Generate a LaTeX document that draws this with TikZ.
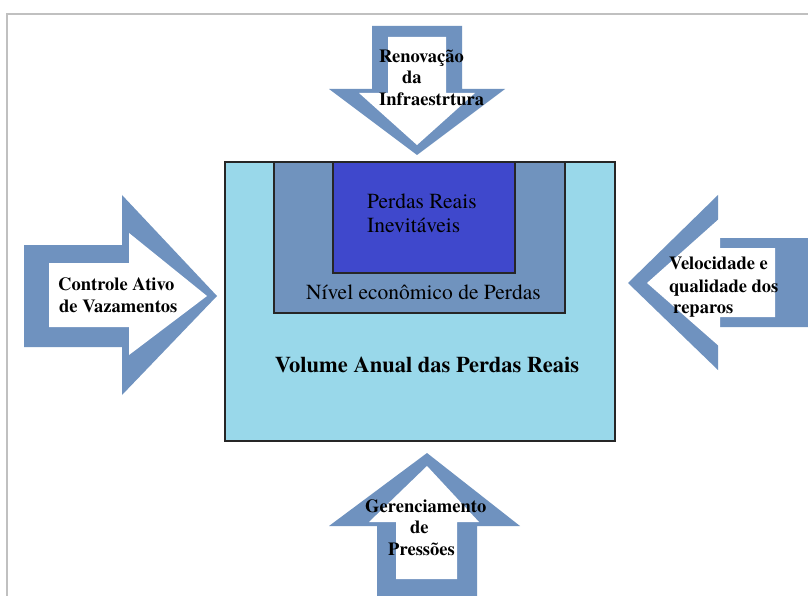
\documentclass[tikz,border=0pt]{standalone}
\usepackage{fontspec}
\setmainfont{texgyretermes}[Extension=.otf,UprightFont=*-regular,BoldFont=*-bold,ItalicFont=*-italic,BoldItalicFont=*-bolditalic]
\definecolor{framegray}{RGB}{192,192,192}
\definecolor{outerfill}{RGB}{153,216,234}
\definecolor{midfill}{RGB}{112,147,190}
\definecolor{innerfill}{RGB}{63,72,204}
\definecolor{arrowblue}{RGB}{111,146,191}
\begin{document}
\begin{tikzpicture}[x=1pt,y=-1pt,
  box/.style={draw=black!85,line width=1.2pt},
  arrowout/.style={fill=arrowblue},
  arrowin/.style={fill=white},
  lbl/.style={anchor=base west,inner sep=0pt,font=\fontsize{18.5}{22}\selectfont\bfseries},
  txt/.style={anchor=base west,inner sep=0pt,font=\fontsize{21.5}{26}\selectfont}]
\useasboundingbox (0,0) rectangle (808,596);
\fill[white] (0,0) rectangle (808,596);

% page frame
\draw[framegray,line width=2pt] (808,14) -- (7,14) -- (7,596);

% nested boxes
\filldraw[box,fill=outerfill] (225,162) rectangle (615,441);
\filldraw[box,fill=midfill] (274,162) rectangle (565,313);
\filldraw[box,fill=innerfill] (333,162) rectangle (515,273);

\node[txt] (pri1) at (367,208) {Perdas Reais};
\node[txt] (pri2) at (367,233) {Inevitáveis};
\node[txt] (nep) at (306,299) {Nível econômico de Perdas};
\node[anchor=base,inner sep=0pt,font=\fontsize{22.5}{27}\selectfont\bfseries] (vol) at (427,372) {Volume Anual das Perdas Reais};

% top arrow (down)
\fill[arrowout] (372,26) -- (462,26) -- (462,89) -- (505,89) -- (417,155) -- (329,89) -- (372,89) -- cycle;
\fill[arrowin] (388,37) -- (446,37) -- (446,93) -- (475,93) -- (417,145) -- (359,93) -- (388,93) -- cycle;
\node[lbl] (t1) at (379,63) {Renovação};
\node[lbl] (t2) at (402,84) {da};
\node[lbl] (t3) at (379,106) {Infraestrtura};

% left arrow (right)
\fill[arrowout] (24,245) -- (122,245) -- (122,195) -- (217,296) -- (122,395) -- (122,347) -- (24,347) -- cycle;
\fill[arrowin] (49,263) -- (129,263) -- (129,233) -- (207,296) -- (129,355) -- (129,327) -- (49,327) -- cycle;
\node[lbl] (l1) at (58,290) {Controle Ativo};
\node[lbl] (l2) at (59,312) {de Vazamentos};

% right arrow (left)
\fill[arrowout] (808,238) -- (718,238) -- (718,195) -- (628,283) -- (718,370) -- (718,327) -- (808,327) -- cycle;
\fill[arrowin] (775,248) -- (720,248) -- (720,218) -- (647,283) -- (720,347) -- (720,317) -- (775,317) -- cycle;
\node[lbl] (r1) at (669,269) {Velocidade e};
\node[lbl] (r2) at (669,292) {qualidade dos};
\node[lbl] (r3) at (673,313) {reparos};

% bottom arrow (up)
\fill[arrowout] (377,596) -- (377,526) -- (329,526) -- (427,453) -- (520,526) -- (477,526) -- (477,596) -- cycle;
\fill[arrowin] (396,579) -- (396,522) -- (369,522) -- (427,466) -- (479,522) -- (457,522) -- (457,579) -- cycle;
\node[lbl] (b1) at (365,512) {Gerenciamento};
\node[lbl] (b2) at (410,533) {de};
\node[lbl] (b3) at (388,555) {Pressões};
\end{tikzpicture}
\end{document}
